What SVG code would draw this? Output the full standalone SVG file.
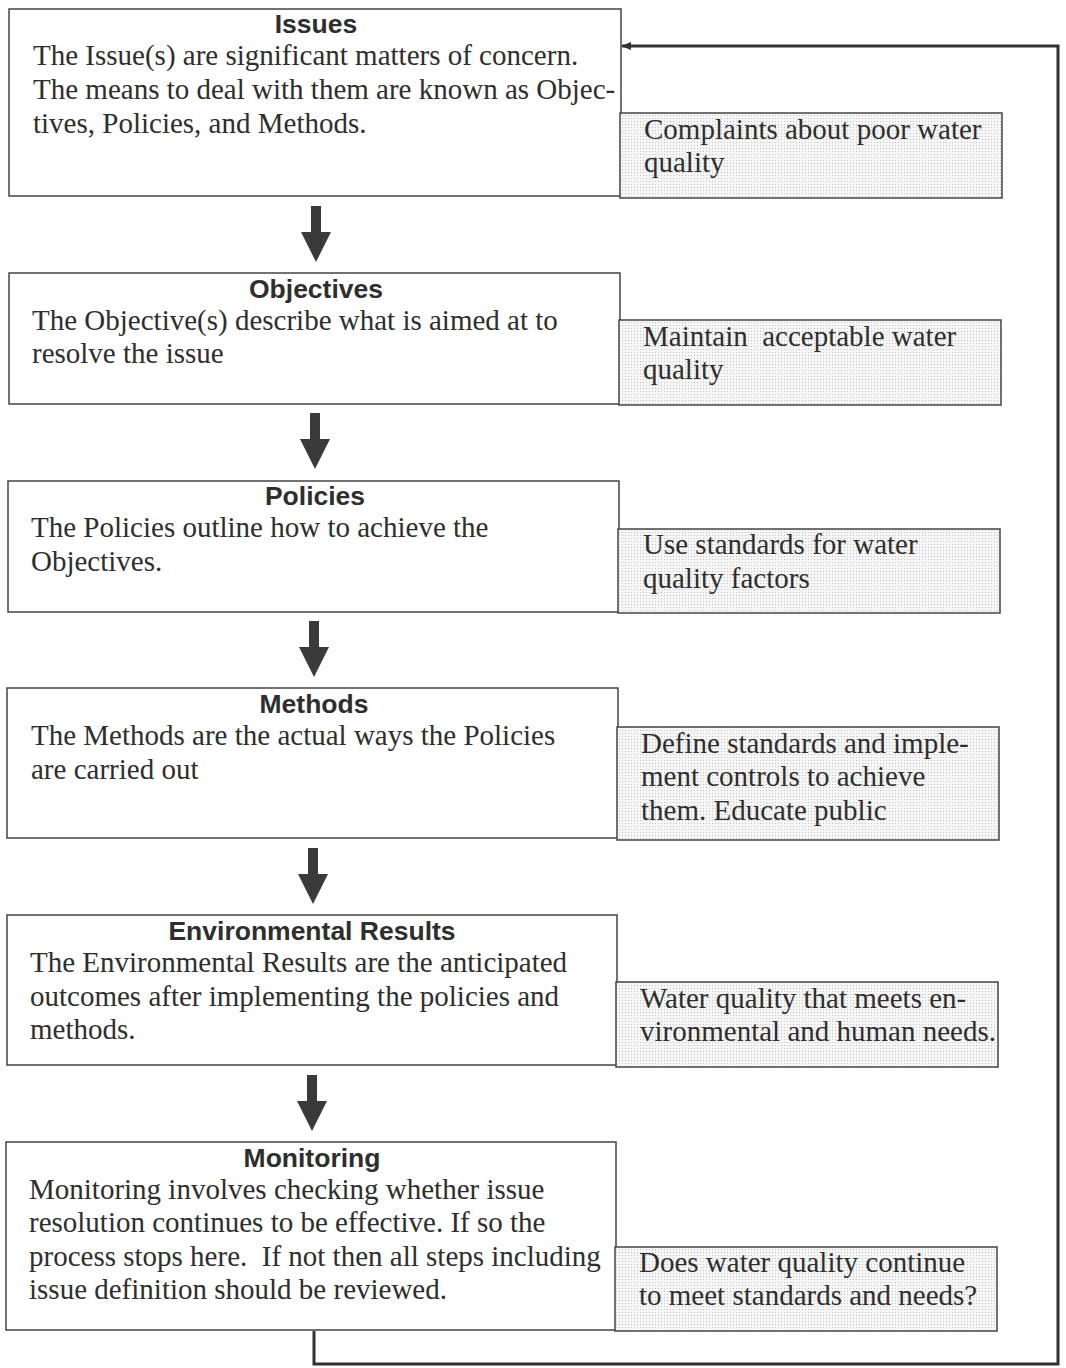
<svg xmlns="http://www.w3.org/2000/svg" width="1066" height="1368" viewBox="0 0 1066 1368">
  <defs>
    <pattern id="dots" width="3" height="3" patternUnits="userSpaceOnUse">
      <rect width="3" height="3" fill="#f6f6f6"/>
      <rect x="1" y="1" width="1" height="1" fill="#c4c4c4"/>
    </pattern>
    <marker id="head" markerWidth="10" markerHeight="8" refX="9" refY="4" orient="auto" markerUnits="userSpaceOnUse">
      <path d="M0,0 L10,4 L0,8 z" fill="#333"/>
    </marker>
    <path id="down" d="M-5,0 H5 V26 H15 L0,56 L-15,26 H-5 Z"/>
  </defs>
  <style>
    .box { fill: #fff; stroke: #444; stroke-width: 1.5; }
    .note { fill: url(#dots); stroke: #444; stroke-width: 1.5; }
    .title { font-family: "Liberation Sans", Arial, sans-serif; font-weight: bold; font-size: 26.5px; fill: #2e2e2e; text-anchor: middle; }
    .body { font-family: "Liberation Serif", "Times New Roman", serif; font-size: 29px; fill: #2e2e2e; }
    .flow { fill: #3a3a3a; }
    .loop { fill: none; stroke: #333; stroke-width: 3; }
  </style>
  <rect width="1066" height="1368" fill="#fff"/>

  <g id="issues">
    <rect class="box" x="9" y="9" width="612" height="187"/>
    <text class="title" x="316" y="33">Issues</text>
    <text class="body" x="33" y="65">The Issue(s) are significant matters of concern.</text>
    <text class="body" x="33" y="99">The means to deal with them are known as Objec-</text>
    <text class="body" x="33" y="133">tives, Policies, and Methods.</text>
    <rect class="note" x="620" y="113" width="382" height="85"/>
    <text class="body" x="644" y="139">Complaints about poor water</text>
    <text class="body" x="644" y="172">quality</text>
  </g>

  <g id="objectives">
    <rect class="box" x="9" y="273" width="611" height="131"/>
    <text class="title" x="316" y="298">Objectives</text>
    <text class="body" x="32" y="330">The Objective(s) describe what is aimed at to</text>
    <text class="body" x="32" y="363">resolve the issue</text>
    <rect class="note" x="619" y="320" width="382" height="85"/>
    <text class="body" x="643" y="346" xml:space="preserve">Maintain  acceptable water</text>
    <text class="body" x="643" y="379">quality</text>
  </g>

  <g id="policies">
    <rect class="box" x="8" y="481" width="611" height="131"/>
    <text class="title" x="315" y="505">Policies</text>
    <text class="body" x="31" y="537">The Policies outline how to achieve the</text>
    <text class="body" x="31" y="571">Objectives.</text>
    <rect class="note" x="618" y="529" width="382" height="84"/>
    <text class="body" x="643" y="554">Use standards for water</text>
    <text class="body" x="643" y="588">quality factors</text>
  </g>

  <g id="methods">
    <rect class="box" x="7" y="688" width="611" height="150"/>
    <text class="title" x="314" y="713">Methods</text>
    <text class="body" x="31" y="745">The Methods are the actual ways the Policies</text>
    <text class="body" x="31" y="779">are carried out</text>
    <rect class="note" x="617" y="727" width="382" height="113"/>
    <text class="body" x="641" y="753">Define standards and imple-</text>
    <text class="body" x="641" y="786">ment controls to achieve</text>
    <text class="body" x="641" y="820">them. Educate public</text>
  </g>

  <g id="environmental-results">
    <rect class="box" x="7" y="915" width="610" height="150"/>
    <text class="title" x="312" y="940">Environmental Results</text>
    <text class="body" x="30" y="972">The Environmental Results are the anticipated</text>
    <text class="body" x="30" y="1006">outcomes after implementing the policies and</text>
    <text class="body" x="30" y="1039">methods.</text>
    <rect class="note" x="616" y="982" width="382" height="85"/>
    <text class="body" x="640" y="1008">Water quality that meets en-</text>
    <text class="body" x="640" y="1041">vironmental and human needs.</text>
  </g>

  <g id="monitoring">
    <rect class="box" x="6" y="1142" width="610" height="188"/>
    <text class="title" x="312" y="1167">Monitoring</text>
    <text class="body" x="29" y="1199">Monitoring involves checking whether issue</text>
    <text class="body" x="29" y="1232">resolution continues to be effective. If so the</text>
    <text class="body" x="29" y="1266" xml:space="preserve">process stops here.  If not then all steps including</text>
    <text class="body" x="29" y="1299">issue definition should be reviewed.</text>
    <rect class="note" x="615" y="1247" width="382" height="84"/>
    <text class="body" x="639" y="1272">Does water quality continue</text>
    <text class="body" x="639" y="1305">to meet standards and needs?</text>
  </g>

  <g id="connectors">
    <use href="#down" class="flow" x="316" y="206"/>
    <use href="#down" class="flow" x="315" y="413"/>
    <use href="#down" class="flow" x="314" y="621"/>
    <use href="#down" class="flow" x="313" y="848"/>
    <use href="#down" class="flow" x="312" y="1075"/>
    <path class="loop" d="M314,1331 V1364 H1058 V46 H622" marker-end="url(#head)"/>
  </g>
</svg>
